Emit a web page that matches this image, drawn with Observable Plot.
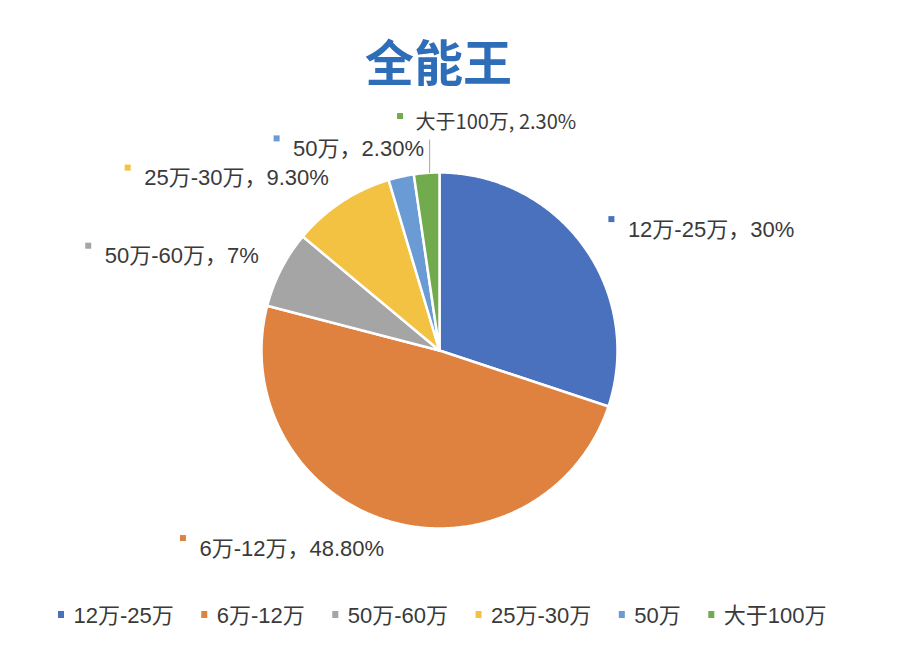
<!DOCTYPE html>
<html><head><meta charset="utf-8">
<script src="https://cdn.jsdelivr.net/npm/d3@7"></script>
<script src="https://cdn.jsdelivr.net/npm/@observablehq/plot@0.6"></script>
<style>html,body{margin:0;padding:0;background:#fff} svg{display:block}</style>
</head><body><div id="chart"></div>
<script>
// ---- data ----
const title = "全能王";
const categories = ["12万-25万", "6万-12万", "50万-60万", "25万-30万", "50万", "大于100万"];
const values = [30, 48.8, 7, 9.3, 2.3, 2.3];
const valueLabels = ["30%", "48.80%", "7%", "9.30%", "2.30%", "2.30%"];
const colors = ["#4a71be", "#e0823f", "#a5a5a5", "#f4c243", "#6a9bd5", "#71ab4d"];

// ---- layout ----
const W = 905, H = 653;
const cx = 439, cy = 350, r = 178;
const labelR = r * 1.16;
const font = '"Liberation Sans", "Noto Sans CJK SC", sans-serif';
const smallFont = '"Noto Sans CJK SC", sans-serif';
const fontSize = 22, smallSize = 20;
const textColor = "#3a3a3a";
const mk = 6;          // marker square size
const mkGap = 13;      // marker -> text gap in labels
// Excel-style collision handling for the two thin top slices
const nudges = {4: {dx: 26, dy: 0}, 5: {anchor: "start", dx: -29, dy: -22, leader: true, small: true}};

const ctx = document.createElement("canvas").getContext("2d");
function measure(t, size, fam) { ctx.font = `${size}px ${fam}`; return ctx.measureText(t).width; }

const arcs = d3.pie().sort(null).value(d => d.value)(categories.map((c, i) => ({name: c, value: values[i], i})));
const pt = (a, rad) => [cx + rad * Math.sin(a), cy - rad * Math.cos(a)];

const slicePts = [];
arcs.forEach(a => {
  const name = a.data.name;
  slicePts.push({name, x: cx, y: cy});
  const n = Math.max(2, Math.ceil((a.endAngle - a.startAngle) / (Math.PI / 360)));
  for (let k = 0; k <= n; k++) {
    const t = a.startAngle + (a.endAngle - a.startAngle) * k / n;
    const [x, y] = pt(t, r);
    slicePts.push({name, x, y});
  }
  slicePts.push({name, x: cx, y: cy});
});

const labels = arcs.map((a, i) => {
  const name = a.data.name;
  const mid = (a.startAngle + a.endAngle) / 2;
  const [px, py] = pt(mid, labelR);
  const nd = nudges[i] || {};
  const small = !!nd.small;
  const text = small ? `${name}, ${valueLabels[i]}` : `${name}，${valueLabels[i]}`;
  const fs = small ? smallSize : fontSize;
  const fam = small ? smallFont : font;
  const tw = measure(text, fs, fam);
  const gap = small ? 12 : mkGap;
  const blockW = mk + gap + tw;
  const anchor = nd.anchor || (Math.sin(mid) >= 0 ? "start" : "end");
  let left = anchor === "start" ? px + 2 : px - blockW + 3;
  left += nd.dx || 0;
  const y = py + (nd.dy || 0);
  const my = y - (small ? 6 : 10);
  const [ex, ey] = pt(mid, r);
  return {name, text, fs, fam, small, x1: left, x2: left + mk, y1: my - mk / 2, y2: my + mk / 2,
          tx: left + mk + gap, y, leader: !!nd.leader, lx: ex + 3, ly1: ey, ly2: y + 17};
});

// legend
const legSize = 22, legMk = 6, legGap = 9, legSep = 28, legY = 615, legCenter = 442;
const legItems = categories.map(c => ({name: c, w: legMk + legGap + measure(c, legSize, font)}));
const legTotal = d3.sum(legItems, d => d.w) + legSep * (legItems.length - 1);
let lx = legCenter - legTotal / 2;
legItems.forEach(d => { d.x1 = lx; d.x2 = lx + legMk; d.tx = lx + legMk + legGap; lx += d.w + legSep; });

const normal = labels.filter(d => !d.small), smallL = labels.filter(d => d.small);

const chart = Plot.plot({
  width: W, height: H,
  margin: 0,
  x: {domain: [0, W], axis: null},
  y: {domain: [H, 0], axis: null},
  color: {domain: categories, range: colors},
  marks: [
    Plot.line(slicePts, {x: "x", y: "y", z: "name", fill: "name", stroke: "white", strokeWidth: 2.5, strokeLinejoin: "round", curve: "linear"}),
    Plot.link(labels.filter(d => d.leader), {x1: "lx", x2: "lx", y1: "ly1", y2: "ly2", stroke: "#a6a6a6", strokeWidth: 1}),
    Plot.rect(labels, {x1: "x1", x2: "x2", y1: "y1", y2: "y2", fill: "name"}),
    Plot.text(normal, {x: "tx", y: "y", text: "text", textAnchor: "start", fontSize: fontSize, fontFamily: font, fill: textColor}),
    Plot.text(smallL, {x: "tx", y: "y", text: "text", textAnchor: "start", fontSize: smallSize, fontFamily: smallFont, fill: textColor}),
    Plot.text([title], {x: () => cx - 1, y: () => 65, text: d => d, fontSize: 49, fontWeight: "bold", fontFamily: '"Noto Sans CJK SC", sans-serif', fill: "#2e6db8"}),
    Plot.rect(legItems, {x1: "x1", x2: "x2", y1: () => legY - 4, y2: () => legY + 3, fill: "name"}),
    Plot.text(legItems, {x: "tx", y: () => legY, text: "name", textAnchor: "start", fontSize: legSize, fontFamily: font, fill: textColor})
  ]
});
document.getElementById("chart").append(chart);
</script>
</body></html>
